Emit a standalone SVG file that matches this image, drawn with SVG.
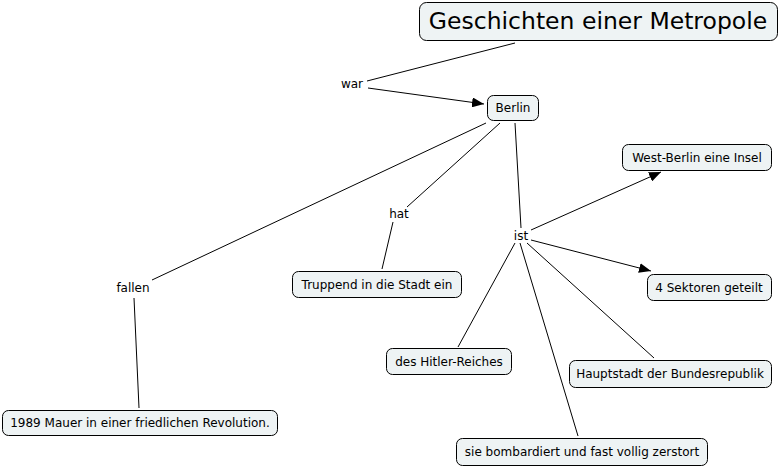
<svg xmlns="http://www.w3.org/2000/svg" width="781" height="467" viewBox="0 0 781 467">
<defs>
<style>
.box{fill:#eef3f4;stroke:#000;stroke-width:1}
.t{font-family:"DejaVu Sans",Verdana,sans-serif;font-size:12px;fill:#000;text-anchor:middle}
.lbl{font-family:"DejaVu Sans",Verdana,sans-serif;font-size:12px;fill:#000;text-anchor:middle}
.c{stroke:#000;stroke-width:1;fill:none}
</style>
<marker id="ah" markerWidth="12" markerHeight="10" refX="12" refY="5" orient="auto" markerUnits="userSpaceOnUse">
<path d="M0,0 L12,5 L0,10 Z" fill="#000"/>
</marker>
</defs>
<rect width="781" height="467" fill="#fff"/>
<g id="connectors">
<line class="c" x1="515" y1="43" x2="367" y2="81"/>
<line class="c" x1="368" y1="88" x2="484" y2="104" marker-end="url(#ah)"/>
<line class="c" x1="486" y1="123" x2="152" y2="280"/>
<line class="c" x1="500" y1="123" x2="407" y2="207"/>
<line class="c" x1="393" y1="222" x2="382" y2="269"/>
<line class="c" x1="515" y1="123" x2="521" y2="228"/>
<line class="c" x1="134" y1="298" x2="139" y2="408"/>
<line class="c" x1="531" y1="230" x2="661" y2="172" marker-end="url(#ah)"/>
<line class="c" x1="531" y1="240" x2="651" y2="271" marker-end="url(#ah)"/>
<line class="c" x1="515" y1="243" x2="458" y2="347"/>
<line class="c" x1="520" y1="243" x2="578" y2="436"/>
<line class="c" x1="527" y1="243" x2="654" y2="358"/>
</g>
<g id="lbl-war"><text class="lbl" x="352" y="88">war</text></g>
<g id="lbl-hat"><text class="lbl" x="399" y="218">hat</text></g>
<g id="lbl-ist"><text class="lbl" x="521" y="240">ist</text></g>
<g id="lbl-fallen"><text class="lbl" x="133" y="292">fallen</text></g>
<g id="n-title"><rect class="box" x="419.5" y="2.5" width="358" height="38" rx="7"/><text class="t" x="598" y="29" style="font-size:23.5px">Geschichten einer Metropole</text></g>
<g id="n-berlin"><rect class="box" x="487.5" y="95.5" width="51" height="25" rx="6"/><text class="t" x="513" y="112">Berlin</text></g>
<g id="n-westberlin"><rect class="box" x="622.5" y="144.5" width="149" height="26" rx="6"/><text class="t" x="697" y="162">West-Berlin eine Insel</text></g>
<g id="n-sektoren"><rect class="box" x="647.5" y="274.5" width="124" height="26" rx="6"/><text class="t" x="709" y="292">4 Sektoren geteilt</text></g>
<g id="n-truppend"><rect class="box" x="292.5" y="271.5" width="169" height="26" rx="6"/><text class="t" x="377" y="289">Truppend in die Stadt ein</text></g>
<g id="n-hitler"><rect class="box" x="386.5" y="348.5" width="125" height="26" rx="6"/><text class="t" x="449" y="366">des Hitler-Reiches</text></g>
<g id="n-hauptstadt"><rect class="box" x="569.5" y="360.5" width="202" height="27" rx="6"/><text class="t" x="670" y="378">Hauptstadt der Bundesrepublik</text></g>
<g id="n-mauer"><rect class="box" x="2.5" y="410.5" width="275" height="25" rx="6"/><text class="t" x="140" y="427">1989 Mauer in einer friedlichen Revolution.</text></g>
<g id="n-bombardiert"><rect class="box" x="456.5" y="438.5" width="251" height="27" rx="6"/><text class="t" x="582" y="456">sie bombardiert und fast vollig zerstort</text></g>
</svg>
